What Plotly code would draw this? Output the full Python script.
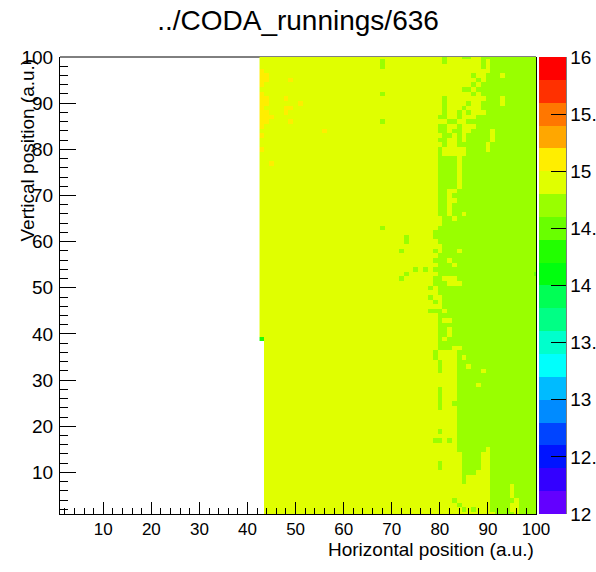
import plotly.graph_objects as go

# ---------------- data ----------------
x_bins = list(range(43, 101))          # horizontal bin centres shown with data
y_bins = list(range(1, 101))           # vertical bin centres

# first filled column for each row (y = 1 .. 100)
row_start = [44] * 38 + [43] * 62

# first "green" (14.6-14.8) column for each row (y = 1 .. 100); cells left of it are 14.8-15.0
row_boundary = [
    91, 91, 91, 91, 91, 91, 91, 91, 85, 85,   # y 1-10
    85, 85, 85, 85, 84, 84, 84, 84, 84, 84,   # y 11-20
    84, 84, 84, 84, 84, 84, 84, 84, 84, 84,   # y 21-30
    84, 84, 84, 84, 84, 84, 80, 80, 80, 80,   # y 31-40
    80, 80, 80, 80, 78, 81, 79, 78, 80, 78,   # y 41-50
    79, 79, 80, 79, 80, 79, 80, 79, 81, 80,   # y 51-60
    79, 79, 80, 81, 81, 80, 80, 80, 80, 80,   # y 61-70
    80, 80, 80, 80, 80, 80, 80, 80, 80, 80,   # y 71-80
    84, 80, 81, 80, 80, 82, 88, 90, 89, 89,   # y 81-90
    90, 89, 88, 87, 88, 90, 91, 89, 89, 89,   # y 91-100
]

# cell content codes -> bin values
level_values = {"Y": 14.9, "G": 14.7, "O": 15.1, "g": 14.5, "B": 14.3}

# individual cells that differ from the row pattern: (x, y, code)
exceptions = [
    (81, 100, "G"), (85, 100, "G"), (86, 100, "G"),
    (81, 99, "G"), (90, 99, "Y"), (68, 99, "G"),
    (90, 98, "Y"), (68, 98, "G"),
    (87, 96, "G"), (93, 96, "Y"),
    (89, 95, "Y"),
    (88, 94, "Y"),
    (85, 93, "G"), (86, 93, "G"),
    (87, 92, "G"), (68, 92, "G"),
    (81, 91, "G"), (93, 91, "Y"),
    (81, 90, "G"), (86, 90, "G"), (93, 90, "Y"),
    (81, 89, "G"), (85, 89, "G"),
    (81, 88, "G"), (84, 88, "G"), (86, 88, "G"),
    (80, 87, "G"), (81, 87, "G"), (84, 87, "G"),
    (84, 86, "Y"), (85, 86, "Y"), (68, 86, "G"),
    (82, 85, "Y"), (83, 85, "Y"), (85, 85, "Y"), (86, 85, "Y"), (87, 85, "Y"),
    (82, 84, "Y"), (85, 84, "Y"), (86, 84, "Y"), (91, 84, "Y"),
    (83, 83, "Y"), (85, 83, "Y"), (91, 83, "Y"),
    (82, 82, "Y"), (83, 82, "Y"), (85, 82, "Y"), (91, 82, "Y"),
    (81, 81, "G"), (90, 81, "Y"),
    (81, 80, "Y"), (82, 80, "Y"), (83, 80, "Y"), (84, 80, "Y"), (85, 80, "Y"), (90, 80, "Y"),
    (81, 79, "Y"), (82, 79, "Y"), (83, 79, "Y"), (84, 79, "Y"), (85, 79, "Y"),
    (84, 78, "Y"), (84, 77, "Y"), (84, 76, "Y"), (84, 75, "Y"), (84, 74, "Y"),
    (84, 73, "Y"), (84, 72, "Y"),
    (82, 71, "Y"), (83, 71, "Y"),
    (82, 70, "Y"),
    (82, 69, "Y"), (83, 69, "Y"),
    (82, 68, "Y"), (82, 67, "Y"),
    (82, 66, "Y"), (85, 66, "Y"),
    (83, 65, "Y"),
    (68, 63, "G"),
    (73, 61, "G"), (73, 60, "G"),
    (80, 58, "Y"), (84, 58, "Y"), (72, 58, "G"),
    (82, 56, "Y"), (83, 55, "Y"),
    (75, 54, "G"), (77, 54, "G"),
    (73, 53, "G"), (100, 53, "g"),
    (81, 52, "Y"), (82, 52, "Y"), (83, 52, "Y"), (72, 52, "G"),
    (82, 51, "Y"), (83, 51, "Y"), (84, 51, "Y"),
    (79, 50, "Y"),
    (79, 48, "Y"), (80, 48, "Y"),
    (80, 47, "Y"),
    (81, 45, "Y"),
    (81, 43, "Y"), (82, 43, "Y"),
    (82, 41, "Y"), (82, 40, "Y"),
    (81, 39, "Y"), (43, 39, "B"),
    (83, 37, "Y"), (84, 37, "Y"),
    (79, 36, "G"), (79, 35, "G"), (85, 35, "Y"),
    (80, 34, "G"), (80, 33, "G"), (86, 33, "Y"), (80, 32, "G"), (89, 32, "Y"),
    (88, 29, "Y"),
    (80, 28, "G"), (80, 27, "G"), (80, 26, "G"), (80, 25, "G"), (83, 25, "G"), (80, 24, "G"),
    (80, 19, "G"),
    (79, 17, "G"), (80, 17, "G"), (82, 17, "G"),
    (90, 15, "Y"),
    (89, 14, "Y"), (90, 14, "Y"), (89, 13, "Y"), (90, 13, "Y"),
    (89, 12, "Y"), (90, 12, "Y"), (89, 11, "Y"), (90, 11, "Y"),
    (80, 12, "G"), (80, 11, "G"),
    (88, 10, "Y"), (89, 10, "Y"), (90, 10, "Y"),
    (86, 9, "Y"), (87, 9, "Y"), (88, 9, "Y"), (89, 9, "Y"), (90, 9, "Y"),
    (85, 8, "G"),
    (95, 7, "Y"), (95, 6, "Y"), (95, 5, "Y"),
    (96, 4, "Y"), (83, 4, "G"),
    (84, 3, "G"), (95, 3, "Y"), (96, 3, "Y"),
    (85, 2, "G"), (87, 2, "G"), (95, 2, "Y"), (96, 2, "Y"),
    (91, 1, "Y"), (96, 1, "Y"),
    # slightly higher cells (15.0-15.2) near the left edge
    (43, 97, "O"), (43, 96, "O"), (44, 96, "O"), (43, 95, "O"), (44, 95, "O"),
    (43, 94, "O"), (49, 95, "O"),
    (43, 92, "O"), (43, 91, "O"), (44, 91, "O"), (43, 90, "O"), (44, 90, "O"), (43, 89, "O"),
    (48, 91, "O"), (48, 89, "O"), (49, 89, "O"), (48, 88, "O"), (51, 90, "O"), (49, 86, "O"),
    (43, 88, "O"), (44, 88, "O"), (43, 87, "O"), (44, 87, "O"), (45, 87, "O"),
    (43, 86, "O"), (44, 86, "O"), (43, 85, "O"),
    (43, 83, "O"), (56, 84, "O"), (43, 80, "O"), (45, 77, "O"),
]

# palette bands (12 -> 16 in 20 steps)
z_min, z_max = 12.0, 16.0
band_colors = [
    "#6300ff", "#3300ff", "#0014ff", "#0044ff", "#008bff",
    "#00bbff", "#00fffc", "#00ffcc", "#00ff85", "#00ff55",
    "#00ff0e", "#22ff00", "#69ff00", "#99ff00", "#e0ff00",
    "#ffee00", "#ffa700", "#ff7700", "#ff3000", "#ff0000",
]
cbar_tickvals = [12, 12.5, 13, 13.5, 14, 14.5, 15, 15.5, 16]
cbar_ticktext = ["12", "12.", "13", "13.", "14", "14.", "15", "15.", "16"]

# ---------------- build the matrix ----------------
codes = {}
for yi, (start, bnd) in enumerate(zip(row_start, row_boundary)):
    y = y_bins[yi]
    for x in x_bins:
        if x < start:
            continue
        codes[(x, y)] = "Y" if x < bnd else "G"
for x, y, c in exceptions:
    if (x, y) in codes:
        codes[(x, y)] = c

z = []
for y in y_bins:
    row = []
    for x in x_bins:
        c = codes.get((x, y))
        row.append(level_values[c] if c else None)
    z.append(row)

n = len(band_colors)
colorscale = []
for k, col in enumerate(band_colors):
    colorscale.append([k / n, col])
    colorscale.append([(k + 1) / n, col])

FONT = "Liberation Sans, Arial, Helvetica, sans-serif"
W, H = 596, 572
ML, MR, MT, MB = 60, 60, 57, 58
PW = W - ML - MR
PH = H - MT - MB

fig = go.Figure(go.Heatmap(
    x=x_bins, y=y_bins, z=z,
    zmin=z_min, zmax=z_max, colorscale=colorscale,
    hoverongaps=False,
    colorbar=dict(
        x=(539 - ML) / PW, xanchor="left", xpad=0,
        thickness=27, thicknessmode="pixels",
        len=1, lenmode="fraction", y=0.5, yanchor="middle", ypad=0,
        tickmode="array", tickvals=cbar_tickvals, ticktext=cbar_ticktext,
        ticks="inside", ticklen=15, tickcolor="black", tickwidth=1,
        outlinewidth=0,
        tickfont=dict(family=FONT, size=19, color="black"),
    ),
))

fig.update_layout(
    width=W, height=H,
    margin=dict(l=ML, r=MR, t=MT, b=MB, autoexpand=False),
    paper_bgcolor="white", plot_bgcolor="white",
    title=dict(text="../CODA_runnings/636", x=0.5, xanchor="center",
               y=1 - 20 / H, yanchor="middle",
               font=dict(family=FONT, size=28, color="black")),
    xaxis=dict(range=[1, 100], showgrid=False, zeroline=False,
               showline=True, linecolor="black", linewidth=1, mirror=False,
               ticks="inside", ticklen=12, tickcolor="black", tickwidth=1,
               tick0=0, dtick=10,
               minor=dict(ticks="inside", ticklen=6, tick0=0, dtick=2,
                          tickcolor="black", showgrid=False),
               tickfont=dict(family=FONT, size=17, color="black"),
               ticklabelstandoff=0, automargin=False),
    yaxis=dict(range=[1, 100], showgrid=False, zeroline=False,
               showline=True, linecolor="black", linewidth=1, mirror=True,
               ticks="inside", ticklen=16, tickcolor="black", tickwidth=1,
               tick0=0, dtick=10,
               minor=dict(ticks="inside", ticklen=8, tick0=0, dtick=2,
                          tickcolor="black", showgrid=False),
               tickfont=dict(family=FONT, size=19, color="black"),
               ticklabelstandoff=2, automargin=False),
    annotations=[
        dict(text="Horizontal position (a.u.)", xref="paper", yref="paper",
             x=1, xanchor="right", y=-(549 - (MT + PH)) / PH, yanchor="middle",
             showarrow=False, font=dict(family=FONT, size=19, color="black")),
        dict(text="Vertical position (a.u.)", xref="paper", yref="paper",
             x=(27 - ML) / PW, xanchor="center", y=1, yanchor="top", textangle=-90,
             showarrow=False, font=dict(family=FONT, size=19, color="black")),
    ],
    shapes=[
        dict(type="line", xref="paper", yref="paper", x0=0, x1=1, y0=1, y1=1,
             line=dict(color="black", width=1), layer="below"),
        dict(type="line", xref="paper", yref="paper",
             x0=(566 - ML) / PW, x1=(566 - ML) / PW, y0=0, y1=1,
             line=dict(color="black", width=1), layer="above"),
    ],
)

fig.write_html("out.html", config={"displayModeBar": False},
               post_script="document.body.style.margin='0';document.body.style.overflow='hidden';")
